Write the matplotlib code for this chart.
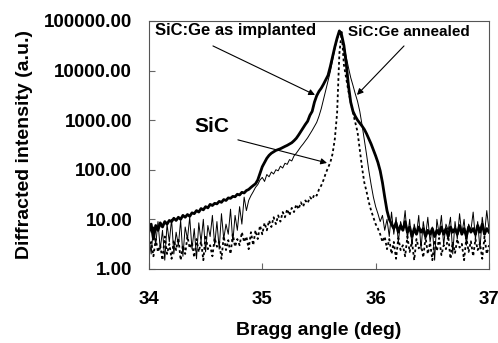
import matplotlib
matplotlib.use('Agg')
import matplotlib.pyplot as plt
from matplotlib.ticker import FixedLocator, FuncFormatter, NullLocator
import numpy as np

plt.rcParams['font.family'] = ['Liberation Sans', 'DejaVu Sans']
plt.rcParams['font.weight'] = 'bold'

# scan positions (deg), step 0.02
bragg_angle = np.linspace(34.0, 37.0, 151)

# SiC:Ge as implanted (thick line)
implanted = [
    5.5, 8.0, 4.0, 7.5, 6.0, 8.5, 7.0, 9.0, 8.0, 9.5,
    9.0, 10.5, 9.5, 11.0, 10.0, 12.0, 11.0, 12.5, 11.5, 13.5,
    13.0, 15.0, 14.0, 16.5, 15.5, 18.0, 17.0, 20.0, 19.0, 21.0,
    20.5, 23.0, 22.0, 25.0, 24.0, 27.0, 26.5, 29.0, 28.5, 32.0,
    31.0, 35.0, 34.0, 38.0, 40.0, 44.0, 48.0, 52.0, 62.0, 85.0,
    115, 140, 170, 195, 215, 230, 245, 255, 265, 280,
    295, 310, 330, 350, 385, 430, 500, 590, 700, 820,
    950, 1250, 1500, 2300, 3100, 3800, 4400, 5300, 6500, 8000,
    12000, 19000, 30000, 45000, 63000, 52000, 32000, 14000, 5000, 2300,
    1500, 1200, 1000, 870, 760, 650, 530, 420, 330, 250,
    190, 140, 95, 55, 28, 15, 10, 8.0, 6.5, 8.5,
    5.5, 7.5, 6.0, 9.0, 5.5, 7.0, 4.5, 6.5, 5.0, 7.0,
    5.5, 6.5, 4.5, 6.0, 5.0, 6.5, 4.5, 6.0, 5.0, 7.0,
    5.0, 6.5, 4.5, 7.0, 5.5, 6.5, 5.0, 7.5, 5.0, 6.5,
    4.5, 7.0, 5.5, 6.5, 5.0, 7.5, 5.5, 8.0, 5.0, 6.5,
    5.5,
]

# SiC:Ge annealed (thin line)
annealed = [
    4.5, 2.0, 7.0, 3.0, 9.0, 2.5, 6.0, 1.5, 8.0, 3.5,
    10.0, 2.0, 5.5, 3.0, 9.5, 1.8, 7.0, 4.0, 11.0, 2.5,
    6.5, 1.6, 8.5, 3.5, 10.0, 2.2, 7.5, 4.5, 12.0, 3.0,
    9.0, 2.5, 13.0, 4.0, 8.0, 5.0, 16.0, 3.5, 12.0, 6.0,
    18.0, 8.0, 28.0, 15, 24, 30, 36, 44, 50, 62,
    70, 58, 80, 72, 90, 82, 100, 95, 118, 108,
    135, 128, 160, 150, 190, 215, 250, 290, 330, 380,
    440, 520, 620, 750, 900, 1200, 1700, 2600, 4000, 6000,
    9500, 16000, 27000, 42000, 56000, 50000, 32000, 19000, 11500, 7200,
    5000, 3400, 2400, 1500, 800, 400, 200, 95, 50, 28,
    18, 13, 9, 12, 6, 10, 4.5, 14, 5, 11,
    3.5, 9, 6, 15, 4, 10, 3, 8, 5, 12,
    2.5, 9, 4.5, 11, 3.5, 7, 1.5, 10, 5, 12,
    3, 8, 6, 11, 2, 9, 4, 13, 5, 10,
    3, 8, 6, 14, 4, 9, 2.5, 11, 5, 15,
    6,
]

# SiC reference (dotted line)
sic = [
    2.5, 3.5, 1.8, 4.0, 2.2, 3.0, 1.5, 4.5, 2.0, 3.2,
    1.6, 3.8, 2.4, 4.2, 1.5, 3.0, 2.0, 4.5, 2.6, 3.4,
    1.7, 4.0, 2.2, 3.6, 1.5, 4.8, 2.5, 3.0, 1.8, 4.2,
    2.8, 3.5, 1.6, 4.6, 2.4, 3.8, 2.0, 5.0, 2.8, 4.0,
    3.0, 5.5, 3.5, 4.5, 2.5, 5.5, 3.0, 6.0, 4.0, 7.5,
    5.0, 8.5, 6.0, 9.5, 7.0, 11, 8.0, 12, 9.0, 14,
    11, 16, 12, 17, 14, 20, 16, 22, 18, 24,
    21, 28, 25, 32, 30, 40, 48, 62, 85, 110,
    140, 210, 420, 1400, 22000, 60000, 13000, 7000, 3800, 2300,
    1400, 900, 580, 250, 110, 55, 36, 22, 15, 11,
    8, 6.5, 5, 3.5, 4.5, 2.5, 4.0, 2.0, 3.5, 1.6,
    4.2, 2.4, 3.0, 1.8, 4.5, 2.2, 3.6, 1.5, 4.0, 2.6,
    3.2, 1.7, 4.4, 2.0, 3.4, 1.5, 3.8, 2.3, 4.2, 1.9,
    3.0, 2.5, 4.6, 1.6, 3.5, 2.1, 4.0, 2.7, 3.2, 1.5,
    4.3, 2.2, 3.6, 1.8, 4.0, 2.4, 3.3, 1.6, 4.5, 2.0,
    3.0,
]

y_ticks = [1, 10, 100, 1000, 10000, 100000]
x_ticks = [34, 35, 36, 37]

fig = plt.figure(figsize=(4.98, 3.43), dpi=100)
ax = fig.add_axes([0.299, 0.216, 0.683, 0.723])

ax.plot(bragg_angle, sic, color='black', lw=1.3, ls=(0, (1.5, 1.5)))
ax.plot(bragg_angle, annealed, color='black', lw=0.7)
ax.plot(bragg_angle, implanted, color='black', lw=2.0)

ax.set_yscale('log')
ax.set_xlim(34, 37)
ax.set_ylim(1, 100000)
ax.yaxis.set_major_locator(FixedLocator(y_ticks))
ax.yaxis.set_minor_locator(NullLocator())
ax.yaxis.set_major_formatter(FuncFormatter(lambda v, p: '%.2f' % v))
ax.xaxis.set_major_locator(FixedLocator(x_ticks))

ax.tick_params(axis='both', direction='in', length=4, width=0.8,
               color='#666666', labelsize=13.5)
ax.tick_params(axis='x', pad=16)
ax.tick_params(axis='y', pad=12)
for s in ax.spines.values():
    s.set_color('#555555')
    s.set_linewidth(0.8)

ax.set_xlabel('Bragg angle (deg)', fontsize=14, fontweight='bold', labelpad=10)
ax.set_ylabel('Diffracted intensity (a.u.)', fontsize=14, fontweight='bold',
              labelpad=8)

arrow = dict(arrowstyle='-|>', color='black', lw=0.8, mutation_scale=9,
             shrinkA=0, shrinkB=0)
ax.annotate('', xy=(35.465, 3220), xytext=(34.565, 31300), arrowprops=arrow)
ax.annotate('', xy=(35.835, 3220), xytext=(36.25, 31300), arrowprops=arrow)
ax.annotate('', xy=(35.571, 137), xytext=(34.785, 400), arrowprops=arrow)
ax.text(34.05, 63000, 'SiC:Ge as implanted', fontsize=12, fontweight='bold',
        ha='left', va='center')
ax.text(35.755, 60000, 'SiC:Ge annealed', fontsize=11, fontweight='bold',
        ha='left', va='center')
ax.text(34.405, 730, 'SiC', fontsize=15, fontweight='bold',
        ha='left', va='center')

fig.savefig('out.png', dpi=100)
